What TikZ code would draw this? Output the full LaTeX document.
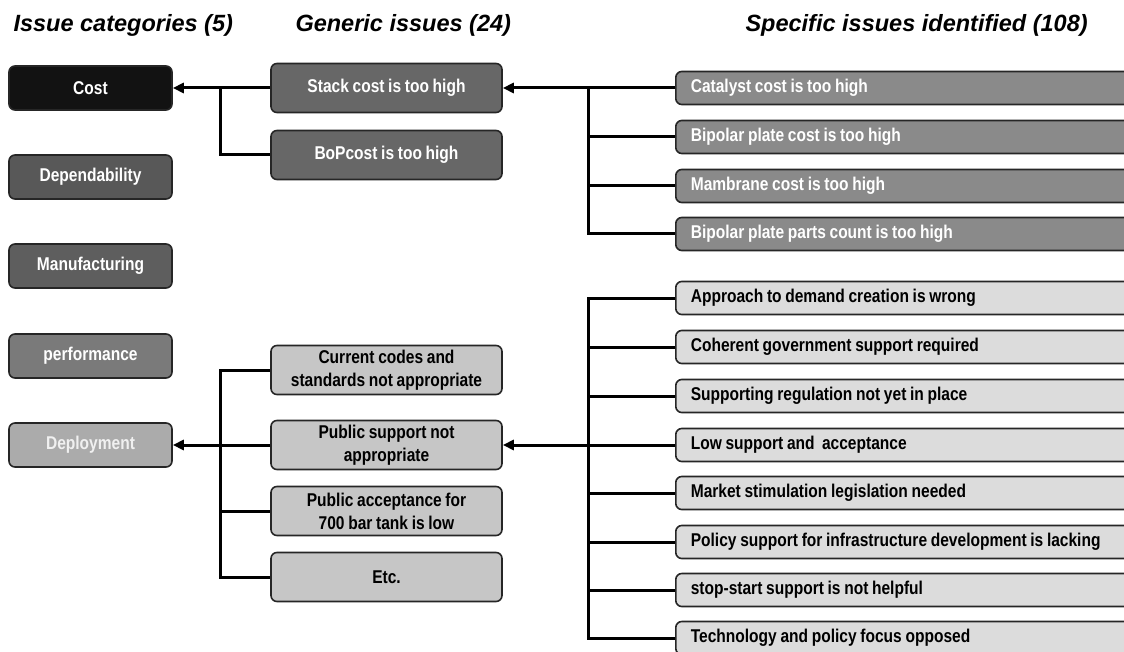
\documentclass[tikz,border=0pt]{standalone}
\usepackage{fontspec}
\setmainfont{Liberation Sans}
\newfontfamily\boxfont{Liberation Sans}[FakeStretch=0.84,WordSpace=0.85]
\usetikzlibrary{arrows.meta}
\definecolor{costfill}{HTML}{121212}
\definecolor{depfill}{HTML}{585858}
\definecolor{manfill}{HTML}{5E5E5E}
\definecolor{perffill}{HTML}{7A7A7A}
\definecolor{deplfill}{HTML}{ABABAB}
\definecolor{genA}{HTML}{676767}
\definecolor{genB}{HTML}{C6C6C6}
\definecolor{specA}{HTML}{8A8A8A}
\definecolor{specB}{HTML}{DCDCDC}

\begin{document}
\begin{tikzpicture}[x=1pt,y=-1pt,
  box/.style={draw=black!85,line width=1.6pt,rounded corners=6pt,inner sep=0pt,
    font=\boxfont\bfseries\fontsize{18.5}{23}\selectfont},
  cat/.style={box,minimum width=163pt,minimum height=44pt,text=white},
  gen/.style={box,minimum width=231pt,minimum height=49pt,align=center},
  spec/.style={box,anchor=west,minimum height=33pt,inner xsep=15pt},
  head/.style={anchor=base west,font=\bfseries\itshape\fontsize{23.5}{28}\selectfont},
  link/.style={line width=3pt},
  arr/.style={link,-{Triangle[length=11pt,width=10pt]}}]
\useasboundingbox (0,0) rectangle (1124,652);
\clip (0,0) rectangle (1124,652);

\node[head] (h1) at (10,32) {Issue categories (5)};
\node[head] (h2) at (292,32) {Generic issues (24)};
\node[head] (h3) at (742,32) {Specific issues identified (108)};

\node[cat,fill=costfill] (cost) at (90.5,88) {Cost};
\node[cat,fill=depfill] (dep) at (90.5,177) {Dependability};
\node[cat,fill=manfill] (man) at (90.5,266) {Manufacturing};
\node[cat,fill=perffill] (perf) at (90.5,356) {performance};
\node[cat,fill=deplfill,text=white!94!black] (depl) at (90.5,445) {Deployment};

\node[gen,fill=genA,text=white] (stack) at (386.5,88) {Stack cost is too high};
\node[gen,fill=genA,text=white] (bop) at (386.5,155) {BoPcost is too high};
\node[gen,fill=genB] (codes) at (386.5,370) {Current codes and\\standards not appropriate};
\node[gen,fill=genB] (pubsup) at (386.5,445) {Public support not\\appropriate};
\node[gen,fill=genB] (accept) at (386.5,511) {Public acceptance for\\700 bar tank is low};
\node[gen,fill=genB] (etc) at (386.5,577) {Etc.};

\foreach \n/\y/\t in {cat/88/Catalyst cost is too high,
  bip/137/Bipolar plate cost is too high,
  mem/186/Mambrane cost is too high,
  par/234/Bipolar plate parts count is too high}
  \node[spec,fill=specA,text=white] (\n) at (675,\y) {\makebox[440pt][l]{\t}};

\foreach \n/\y/\t in {appr/298/Approach to demand creation is wrong,
  coh/347/Coherent government support required,
  reg/396/Supporting regulation not yet in place,
  low/445/Low support and~ acceptance,
  mark/493/Market stimulation legislation needed,
  pol/542/Policy support for infrastructure development is lacking,
  stop/590/stop-start support is not helpful,
  tech/638/Technology and policy focus opposed}
  \node[spec,fill=specB] (\n) at (675,\y) {\makebox[440pt][l]{\t}};

\coordinate (j1) at (220,88);
\coordinate (j2) at (220,445);
\coordinate (j3) at (588,88);
\coordinate (j4) at (588,445);

\draw[arr] (stack.west) -- (cost.east);
\draw[link] (j1) |- (bop.west);
\draw[arr] (pubsup.west) -- (depl.east);
\draw[link] (codes.west) -| (j2) |- (etc.west);
\draw[link] (j2) |- (accept.west);

\draw[arr] (cat.west) -- (stack.east);
\foreach \n in {bip,mem,par}
\draw[link] (j3) |- (\n.west);
\draw[arr] (low.west) -- (pubsup.east);
\draw[link] (appr.west) -| (j4) |- (tech.west);
\foreach \n in {coh,reg,mark,pol,stop}
\draw[link] (j4) |- (\n.west);
\end{tikzpicture}
\end{document}
